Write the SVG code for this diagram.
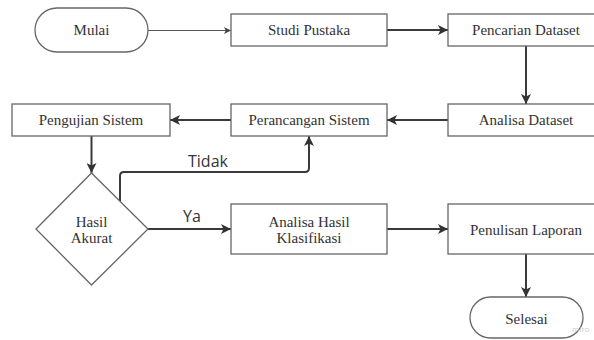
<svg xmlns="http://www.w3.org/2000/svg" width="594" height="340" viewBox="0 0 594 340">
<defs>
<style>
.box{fill:#fff;stroke:#666;stroke-width:1.3}
.lbl{font-family:"Liberation Serif","Times New Roman",serif;font-size:15px;fill:#333;text-anchor:middle}
.sans{font-family:"Open Sans","Noto Sans",sans-serif;font-size:16px;fill:#333}
.conn{fill:none;stroke:#3a3a3a;stroke-width:2}
.thin{fill:none;stroke:#555;stroke-width:1.2}
</style>
<marker id="ah" viewBox="0 0 10 10" refX="10" refY="5" markerWidth="10" markerHeight="10" markerUnits="userSpaceOnUse" orient="auto">
<path d="M0,0 L10,5 L0,10 L2.5,5 Z" fill="#333"/>
</marker>
<marker id="ahs" viewBox="0 0 10 10" refX="10" refY="5" markerWidth="7" markerHeight="7" markerUnits="userSpaceOnUse" orient="auto">
<path d="M0,0 L10,5 L0,10 L2.5,5 Z" fill="#444"/>
</marker>
</defs>
<rect width="594" height="340" fill="#fff"/>
<g id="connectors">
<path class="thin" d="M148 30.5 H231" marker-end="url(#ahs)"/>
<path class="conn" d="M387 30 H448" marker-end="url(#ah)"/>
<path class="conn" d="M526 46 V104" marker-end="url(#ah)"/>
<path class="conn" d="M448 120 H387" marker-end="url(#ah)"/>
<path class="conn" d="M231 120 H170" marker-end="url(#ah)"/>
<path class="conn" d="M91.5 136 V173" marker-end="url(#ah)"/>
<path class="conn" d="M120 201.5 V176 Q120 172 124 172 H305 Q309 172 309 168 V136" marker-end="url(#ah)"/>
<path class="conn" d="M148 229 H231" marker-end="url(#ah)"/>
<path class="conn" d="M387 229 H448" marker-end="url(#ah)"/>
<path class="conn" d="M526 254 V297" marker-end="url(#ah)"/>
<text class="sans" x="188" y="167">Tidak</text>
<text class="sans" x="183" y="222">Ya</text>
</g>
<g id="mulai">
<rect class="box" x="35" y="8" width="113" height="44" rx="22" ry="22"/>
<text class="lbl" x="91.5" y="35">Mulai</text>
</g>
<g id="studi-pustaka">
<rect class="box" x="231" y="14" width="156" height="32"/>
<text class="lbl" x="309" y="35">Studi Pustaka</text>
</g>
<g id="pencarian-dataset">
<rect class="box" x="448" y="14" width="156" height="32"/>
<text class="lbl" x="526" y="35">Pencarian Dataset</text>
</g>
<g id="analisa-dataset">
<rect class="box" x="448" y="104" width="156" height="32"/>
<text class="lbl" x="526" y="125">Analisa Dataset</text>
</g>
<g id="perancangan-sistem">
<rect class="box" x="231" y="104" width="156" height="32"/>
<text class="lbl" x="309" y="125">Perancangan Sistem</text>
</g>
<g id="pengujian-sistem">
<rect class="box" x="12" y="104" width="158" height="32"/>
<text class="lbl" x="91" y="125">Pengujian Sistem</text>
</g>
<g id="hasil-akurat">
<polygon class="box" points="91.5,173 148,229 91.5,285 36,229"/>
<text class="lbl" x="91.5" y="227">Hasil</text>
<text class="lbl" x="91.5" y="243">Akurat</text>
</g>
<g id="analisa-hasil">
<rect class="box" x="231" y="204" width="156" height="50"/>
<text class="lbl" x="309" y="227">Analisa Hasil</text>
<text class="lbl" x="309" y="243">Klasifikasi</text>
</g>
<g id="penulisan-laporan">
<rect class="box" x="448" y="204" width="156" height="50"/>
<text class="lbl" x="526" y="235">Penulisan Laporan</text>
</g>
<g id="selesai">
<rect class="box" x="470" y="297" width="113" height="41" rx="20.5" ry="20.5"/>
<text class="lbl" x="526.5" y="324">Selesai</text>
</g>
<text x="572" y="332" font-family="'Open Sans',sans-serif" font-size="8" fill="#ccc">miro</text>
</svg>
